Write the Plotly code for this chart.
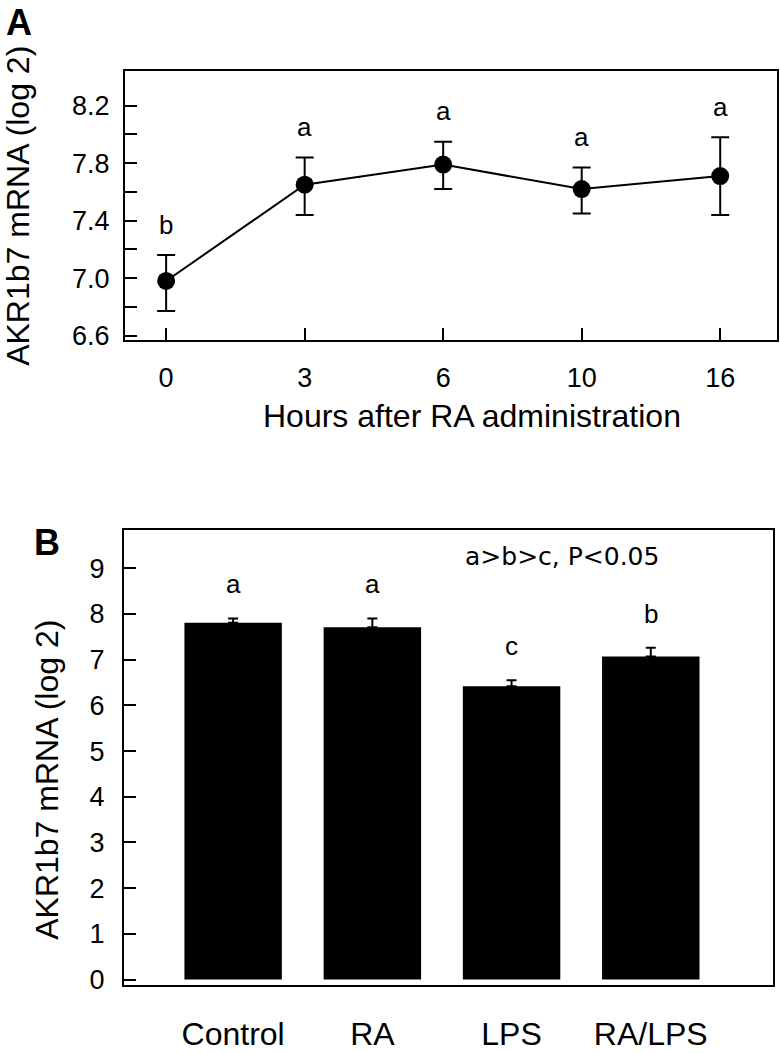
import plotly.graph_objects as go

# ---- Panel A data ----
hours = ["0", "3", "6", "10", "16"]
mean_a = [6.98, 7.65, 7.79, 7.62, 7.71]
err_up_a = [0.18, 0.19, 0.16, 0.15, 0.27]
err_dn_a = [0.21, 0.21, 0.17, 0.17, 0.27]
letters_a = ["b", "a", "a", "a", "a"]
yticks_a = [6.6, 6.8, 7.0, 7.2, 7.4, 7.6, 7.8, 8.0, 8.2]
yticktext_a = ["6.6", "", "7.0", "", "7.4", "", "7.8", "", "8.2"]

# ---- Panel B data ----
groups = ["Control", "RA", "LPS", "RA/LPS"]
mean_b = [7.81, 7.71, 6.42, 7.07]
err_b = [0.09, 0.19, 0.13, 0.19]
letters_b = ["a", "a", "c", "b"]
yticks_b = [0, 1, 2, 3, 4, 5, 6, 7, 8, 9]

FONT = "Liberation Sans, Arial, Helvetica, sans-serif"
W, H = 780, 1053

fig = go.Figure()

fig.add_trace(go.Scatter(
    x=hours, y=mean_a, mode="lines+markers",
    line=dict(color="black", width=2),
    marker=dict(color="black", size=18),
    error_y=dict(type="data", symmetric=False, array=err_up_a, arrayminus=err_dn_a,
                 color="black", thickness=2, width=9),
    xaxis="x", yaxis="y", showlegend=False, cliponaxis=False,
))

fig.add_trace(go.Bar(
    x=groups, y=mean_b, marker=dict(color="black", line=dict(width=0)),
    error_y=dict(type="data", symmetric=False, array=err_b,
                 arrayminus=[0] * len(err_b), color="black", thickness=2, width=5),
    xaxis="x2", yaxis="y2", showlegend=False,
))

annotations = []
for i, (m, e, l) in enumerate(zip(mean_a, err_up_a, letters_a)):
    annotations.append(dict(x=i, y=m + e + 0.21, xref="x", yref="y", text=l,
                            showarrow=False, xanchor="center", yanchor="middle",
                            font=dict(family=FONT, size=26, color="black")))
for i, (m, e, l) in enumerate(zip(mean_b, err_b, letters_b)):
    annotations.append(dict(x=i, y=m + e + 0.75, xref="x2", yref="y2", text=l,
                            showarrow=False, xanchor="center", yanchor="middle",
                            font=dict(family=FONT, size=26, color="black")))

def px(x, y):
    return dict(x=x / W, y=1 - y / H, xref="paper", yref="paper",
                xanchor="center", yanchor="middle", showarrow=False)

annotations += [
    dict(x=2.36, y=9.25, xref="x2", yref="y2", text="a>b>c, P<0.05", showarrow=False,
         xanchor="center", yanchor="middle",
         font=dict(family="DejaVu Sans, Verdana, sans-serif", size=25, color="black")),
    dict(**px(19, 23), text="<b>A</b>", font=dict(family=FONT, size=36, color="black")),
    dict(**px(47, 548), text="<b>B</b>", font=dict(family=FONT, size=36, color="black")),
    dict(**px(18, 208), text="AKR1b7 mRNA (log 2)", textangle=-90,
         font=dict(family=FONT, size=32, color="black")),
    dict(**px(47, 788), text="AKR1b7 mRNA (log 2)", textangle=-90,
         font=dict(family=FONT, size=32, color="black")),
    dict(**px(472, 420), text="Hours after RA administration",
         font=dict(family=FONT, size=32, color="black")),
]

axis_common = dict(showline=True, linecolor="black", linewidth=2, mirror=True,
                   showgrid=False, zeroline=False)

fig.update_layout(
    width=W, height=H, autosize=False,
    margin=dict(l=0, r=0, t=0, b=0),
    paper_bgcolor="white", plot_bgcolor="white",
    bargap=0.30,
    annotations=annotations,
    xaxis=dict(domain=[125 / W, 777 / W], anchor="y", type="category",
               range=[-0.297, 4.41], ticks="inside", ticklen=12, tickwidth=2,
               tickcolor="black", ticklabelstandoff=12,
               tickfont=dict(family=FONT, size=27, color="black"), **axis_common),
    yaxis=dict(domain=[1 - 344 / H, 1 - 72 / H], anchor="x",
               range=[6.566, 8.44], tickvals=yticks_a, ticktext=yticktext_a,
               ticks="inside", ticklen=12, tickwidth=2, tickcolor="black",
               ticklabelstandoff=8,
               tickfont=dict(family=FONT, size=27, color="black"), **axis_common),
    xaxis2=dict(domain=[124 / W, 773 / W], anchor="y2", type="category",
                range=[-0.784, 3.878], ticks="", ticklabelstandoff=20,
                tickfont=dict(family=FONT, size=32, color="black"), **axis_common),
    yaxis2=dict(domain=[1 - 995 / H, 1 - 536 / H], anchor="x2",
                range=[-0.11, 9.83], tickvals=yticks_b,
                ticks="inside", ticklen=12, tickwidth=2, tickcolor="black",
                ticklabelstandoff=12,
                tickfont=dict(family=FONT, size=27, color="black"), **axis_common),
)

fig.write_html("out.html", config={"displayModeBar": False},
               post_script="document.body.style.margin='0';")
